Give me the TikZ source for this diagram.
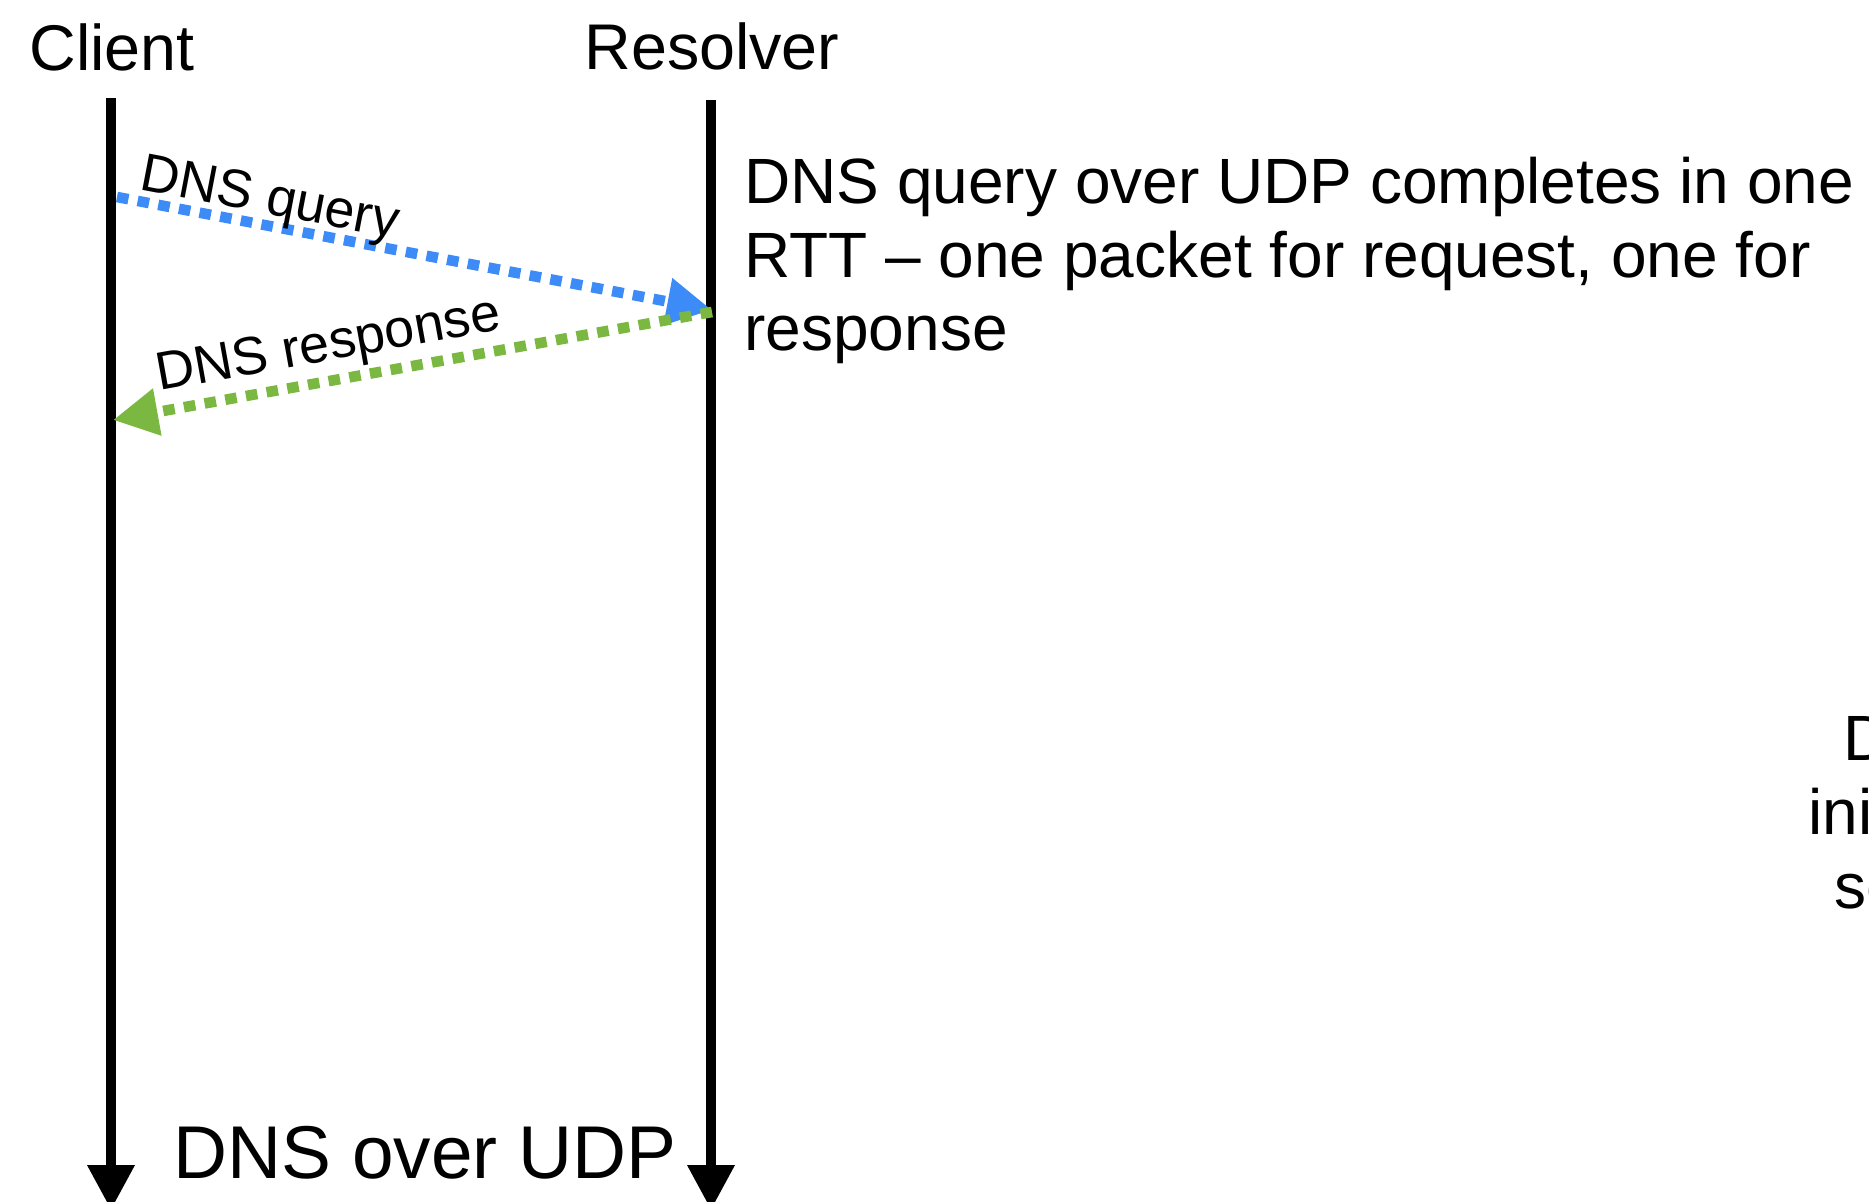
\documentclass[tikz,border=0pt]{standalone}
\usepackage{fontspec}
\setmainfont{Liberation Sans}
\usetikzlibrary{arrows.meta}
\definecolor{qblue}{RGB}{60,139,246}
\definecolor{rgreen}{RGB}{122,184,66}
\begin{document}
\begin{tikzpicture}[x=0.5pt,y=-0.5pt,
  lifeline/.style={line width=5pt, black, -{Triangle[length=22.5pt,width=22.5pt]}},
  msg/.style={line width=5.3pt, dash pattern=on 5.8pt off 4.7pt, -{Triangle[length=22.5pt,width=22.5pt]}},
  hdr/.style={inner sep=0pt, anchor=base, font=\fontsize{32.3pt}{38pt}\selectfont},
  lbl/.style={inner sep=0pt, anchor=base west, font=\fontsize{26.8pt}{31pt}\selectfont},
  body/.style={inner sep=0pt, anchor=base west, font=\fontsize{32pt}{37pt}\selectfont},
  title/.style={inner sep=0pt, anchor=base west, font=\fontsize{37.4pt}{42pt}\selectfont}]
\useasboundingbox (0,0) rectangle (1869,1201);
\clip (0,0) rectangle (1869,1201);
% headers
\node[hdr] (client) at (112,70) {Client};
\node[hdr] (resolver) at (712,69) {Resolver};
% lifelines
\coordinate (ctop) at (111,98);
\coordinate (cbot) at (111,1210);
\coordinate (rtop) at (711,100);
\coordinate (rbot) at (711,1210);
\draw[lifeline] (ctop) -- (cbot);
\draw[lifeline] (rtop) -- (rbot);
% messages
\coordinate (qs) at (117,197);
\coordinate (qe) at (712,310);
\coordinate (rs) at (712,312);
\coordinate (re) at (113,420);
\draw[msg, qblue] (qs) -- (qe);
\draw[msg, rgreen] (rs) -- (re);
\node[lbl, rotate=-10.85] (ql) at (138,189) {DNS query};
\node[lbl, rotate=10.2] (rl) at (159,391) {DNS response};
% description
\node[body] (d1) at (744,203) {DNS query over UDP completes in one};
\node[body] (d2) at (744,277) {RTT -- one packet for request, one for};
\node[body] (d3) at (744,350) {response};
% cut-off text at right edge
\node[body] (e1) at (1843,760) {D};
\node[body] (e2) at (1808,834) {ini};
\node[body] (e3) at (1834,908) {se};
% caption
\node[title] (cap) at (173,1178) {DNS over UDP};
\end{tikzpicture}
\end{document}
